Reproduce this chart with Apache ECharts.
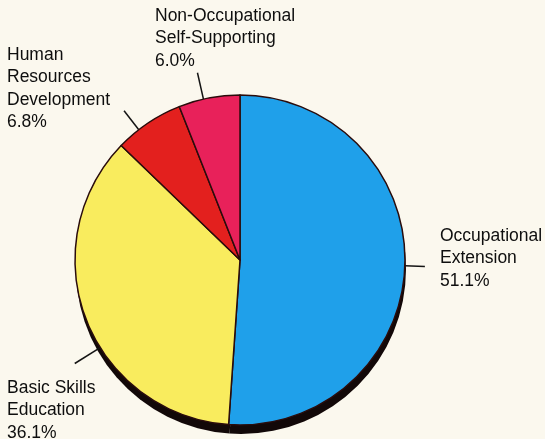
<!DOCTYPE html>
<html>
<head>
<meta charset="utf-8">
<script src="https://cdn.jsdelivr.net/npm/echarts@6/dist/echarts.min.js"></script>
<style>
  html, body { margin: 0; padding: 0; background: #fbf8ee; }
  #chart { width: 545px; height: 439px; }
</style>
</head>
<body>
<div id="chart"></div>
<script>
// data
const categories = [
  "Occupational\nExtension",
  "Basic Skills\nEducation",
  "Human\nResources\nDevelopment",
  "Non-Occupational\nSelf-Supporting"
];
const shares = [51.1, 36.1, 6.8, 6.0];

// look
const sliceColors = ["#1fa0ea", "#f9ec5e", "#e3201e", "#e8215a"];
const pieCenter = [240, 260];
const pieRadius = 165;
const labelSpots = [[440, 225], [7, 377], [7, 44], [155, 5]];
const lineTurn = [0, 11, 4, 2];   // degrees, nudge of the pointer line
const lineLen = [20, 30, 24, 27];

document.addEventListener("DOMContentLoaded", function () {
  const chart = echarts.init(document.getElementById("chart"));

  const pieData = categories.map((name, i) => ({
    name: name,
    value: shares[i],
    itemStyle: { color: sliceColors[i] }
  }));

  const option = {
    backgroundColor: "#fbf8ee",
    animation: false,
    series: [
      // drop shadow under the pie
      {
        type: "pie",
        silent: true,
        z: 1,
        center: [pieCenter[0] + 1, pieCenter[1] + 9],
        radius: pieRadius,
        startAngle: 90,
        data: shares.map((v) => ({ value: v })),
        itemStyle: { color: "#120808", borderWidth: 0 },
        label: { show: false },
        labelLine: { show: false }
      },
      {
        type: "pie",
        z: 2,
        center: pieCenter,
        radius: pieRadius,
        startAngle: 90,
        avoidLabelOverlap: false,
        data: pieData,
        itemStyle: { borderColor: "#2a0c0c", borderWidth: 1.5 },
        emphasis: { disabled: true },
        label: {
          show: true,
          position: "outside",
          alignTo: "none",
          color: "#0e0e0e",
          fontFamily: "Liberation Sans, Arial, sans-serif",
          fontSize: 17.5,
          lineHeight: 22.3,
          formatter: (p) => p.name + "\n" + p.value.toFixed(1) + "%"
        },
        labelLine: {
          show: true,
          length: 20,
          length2: 0,
          lineStyle: { color: "#141414", width: 1.5 }
        },
        labelLayout: function (params) {
          const i = params.dataIndex;
          const [cx, cy] = pieCenter;
          const pts = params.labelLinePoints;
          let a, r;
          if (pts) {
            const dx = pts[0][0] - cx, dy = pts[0][1] - cy;
            r = Math.hypot(dx, dy);
            a = Math.atan2(-dy, dx);
          } else {
            const total = shares.reduce((s, v) => s + v, 0);
            const before = shares.slice(0, i).reduce((s, v) => s + v, 0);
            r = pieRadius;
            a = (90 - 360 * (before + shares[i] / 2) / total) * Math.PI / 180;
          }
          a += lineTurn[i] * Math.PI / 180;
          const p0 = [cx + r * Math.cos(a), cy - r * Math.sin(a)];
          const r1 = r + lineLen[i];
          const p1 = [cx + r1 * Math.cos(a), cy - r1 * Math.sin(a)];
          return {
            x: labelSpots[i][0],
            y: labelSpots[i][1],
            align: "left",
            verticalAlign: "top",
            labelLinePoints: [p0, p1, p1]
          };
        }
      }
    ]
  };
  chart.setOption(option);
});
</script>
</body>
</html>
